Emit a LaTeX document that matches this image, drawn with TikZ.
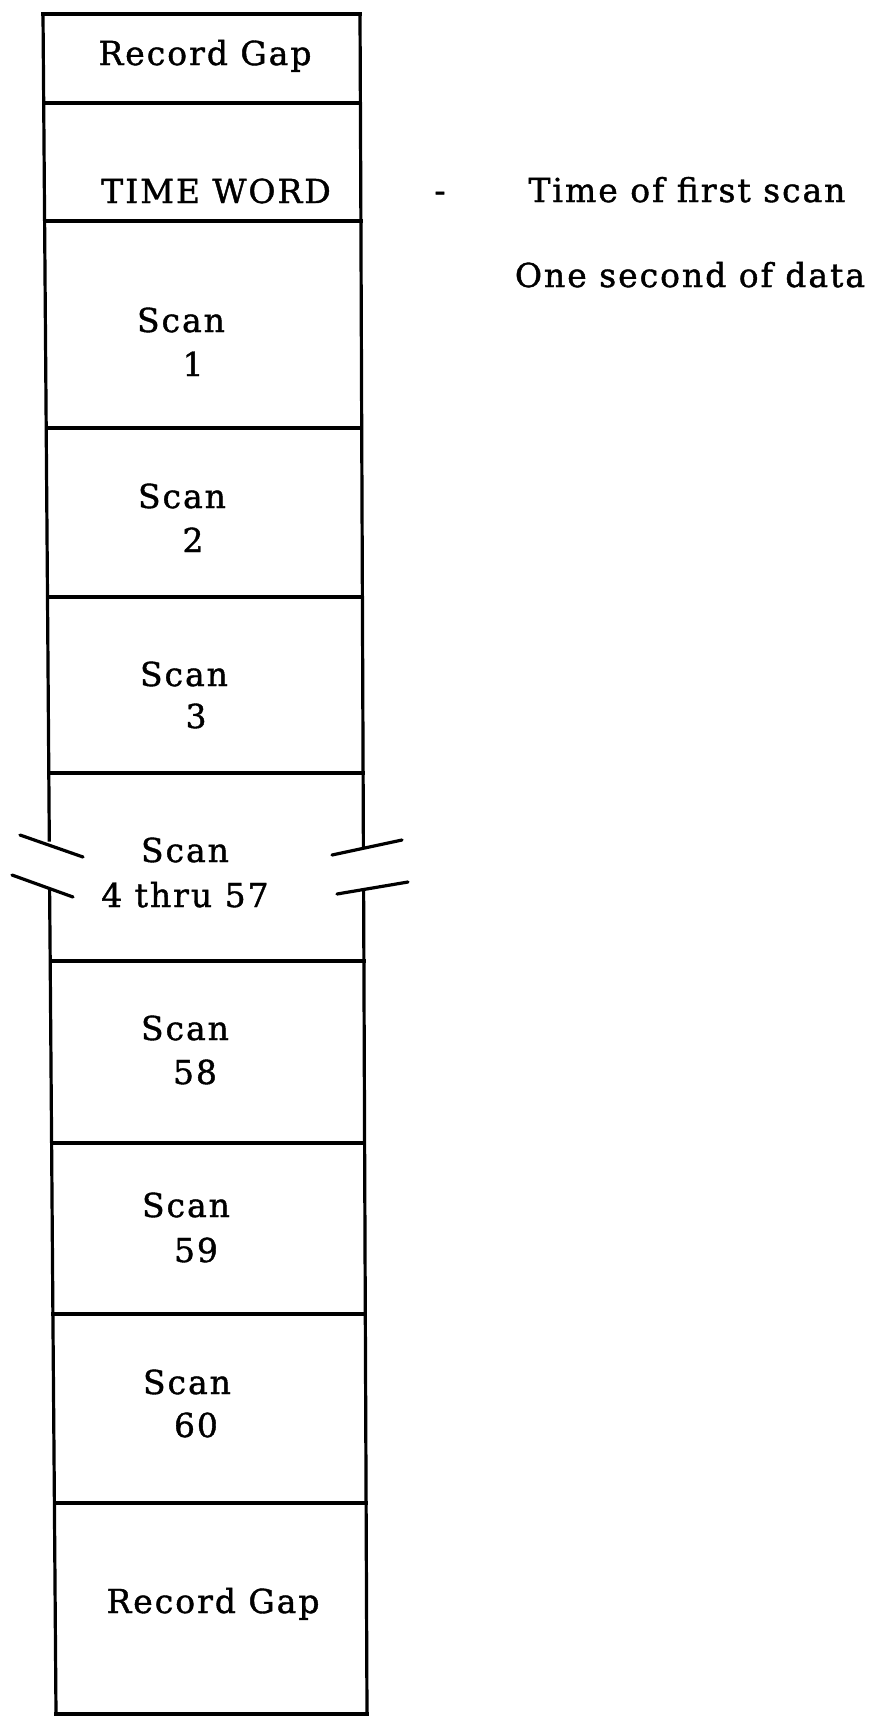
\documentclass[tikz,border=0pt]{standalone}
\usepackage{fontspec}
\setmainfont{DejaVu Serif}[LetterSpace=6,FakeBold=1.2]
\begin{document}
\begin{tikzpicture}[x=1pt,y=-1pt,
  wall/.style={line width=3.2pt, line cap=rect, line join=miter},
  brk/.style={line width=3.2pt, line cap=round},
  lbl/.style={anchor=base, inner sep=0pt, font=\fontsize{33}{36}\selectfont},
  note/.style={anchor=base, inner sep=0pt, font=\fontsize{33}{36}\selectfont}]
\useasboundingbox (0,0) rectangle (879,1716);
% corners of the column
\coordinate (L0) at (43,14);    \coordinate (R0) at (360,14);
\coordinate (L1) at (43.7,103); \coordinate (R1) at (360.4,103);
\coordinate (L2) at (44.6,221); \coordinate (R2) at (360.9,221);
\coordinate (L3) at (46.2,428); \coordinate (R3) at (361.7,428);
\coordinate (L4) at (47.5,597); \coordinate (R4) at (362.4,597);
\coordinate (L5) at (48.8,773); \coordinate (R5) at (363.1,773);
\coordinate (L6) at (50.2,961); \coordinate (R6) at (363.9,961);
\coordinate (L7) at (51.6,1143); \coordinate (R7) at (364.6,1143);
\coordinate (L8) at (52.9,1314); \coordinate (R8) at (365.3,1314);
\coordinate (L9) at (54.4,1503); \coordinate (R9) at (366.1,1503);
\coordinate (L10) at (56,1714); \coordinate (R10) at (367,1714);
% breaks in the side walls
\coordinate (Lg1) at (49.3,840); \coordinate (Lg2) at (49.6,890);
\coordinate (Rg1) at (363.4,847); \coordinate (Rg2) at (363.6,890);
% side walls
\draw[wall] (L0) -- (L1) -- (L2) -- (L3) -- (L4) -- (L5) -- (Lg1);
\draw[wall] (Lg2) -- (L6) -- (L7) -- (L8) -- (L9) -- (L10);
\draw[wall] (R0) -- (R1) -- (R2) -- (R3) -- (R4) -- (R5) -- (Rg1);
\draw[wall] (Rg2) -- (R6) -- (R7) -- (R8) -- (R9) -- (R10);
% dividing lines
\foreach \i in {0,...,10} {\draw[wall] (L\i) -- (R\i);}
% break marks
\coordinate (ba1) at (20,835);  \coordinate (ba2) at (83,857);
\coordinate (bb1) at (12,875);  \coordinate (bb2) at (73,897);
\coordinate (bc1) at (332,855); \coordinate (bc2) at (402,840);
\coordinate (bd1) at (337,894); \coordinate (bd2) at (408,882);
\draw[brk] (ba1) -- (ba2);
\draw[brk] (bb1) -- (bb2);
\draw[brk] (bc1) -- (bc2);
\draw[brk] (bd1) -- (bd2);
% texts in the column
\node[lbl] (rgtop) at (205,65) {Record Gap};
\node[lbl] (timeword) at (216,203) {TIME WORD};
\node[lbl] (s1a) at (181,332) {Scan};
\node[lbl] (s1b) at (193,376) {1};
\node[lbl] (s2a) at (182,508) {Scan};
\node[lbl] (s2b) at (193,552) {2};
\node[lbl] (s3a) at (184,686) {Scan};
\node[lbl] (s3b) at (196,728) {3};
\node[lbl] (s4a) at (185,862) {Scan};
\node[lbl] (s4b) at (185,907) {4 thru 57};
\node[lbl] (s58a) at (185,1040) {Scan};
\node[lbl] (s58b) at (195,1084) {58};
\node[lbl] (s59a) at (186,1217) {Scan};
\node[lbl] (s59b) at (196,1262) {59};
\node[lbl] (s60a) at (187,1394) {Scan};
\node[lbl] (s60b) at (196,1437) {60};
\node[lbl] (rgbot) at (213,1613) {Record Gap};
% notes on the right
\node[note] (dash) at (440,202) {-};
\node[note] (timefirst) at (687,202) {Time of first scan};
\node[note] (onesec) at (690,287) {One second of data};
\end{tikzpicture}
\end{document}
